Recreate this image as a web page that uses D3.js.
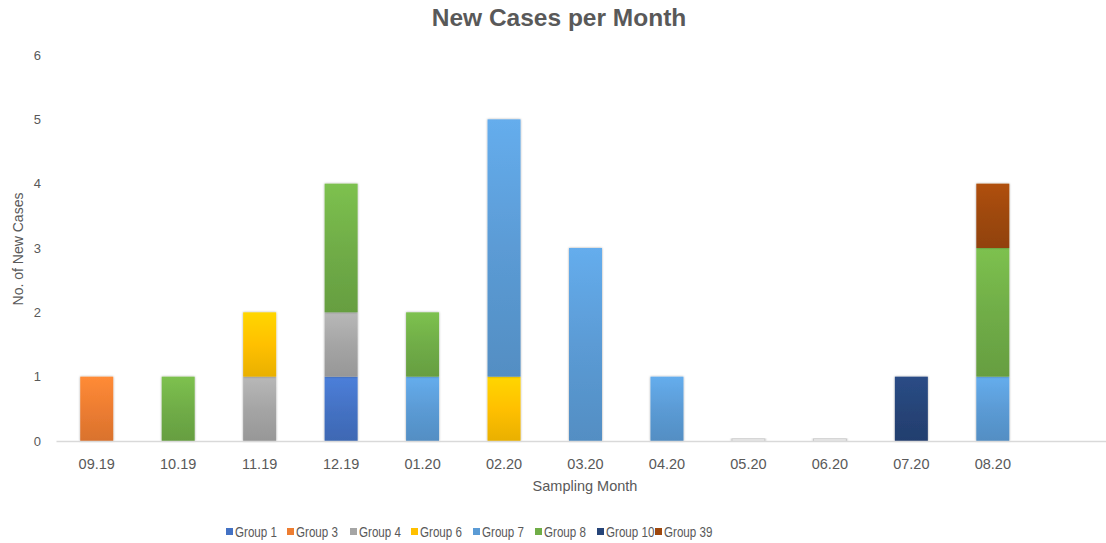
<!DOCTYPE html>
<html lang="en">
<head>
<meta charset="UTF-8">
<title>New Cases per Month</title>
<script src="https://d3js.org/d3.v7.min.js"></script>
<style>
  body { margin: 0; background: #fff; }
  svg { display: block; font-family: "Liberation Sans", Arial, sans-serif; }
  .tick text { fill: #595959; }
</style>
</head>
<body>
<script>
// categories (the last slot is empty, as in the original chart)
const months = ["09.19", "10.19", "11.19", "12.19", "01.20", "02.20", "03.20", "04.20", "05.20", "06.20", "07.20", "08.20", ""];
const groups = ["Group 1", "Group 3", "Group 4", "Group 6", "Group 7", "Group 8", "Group 10", "Group 39"];
const colors = ["#4472C4", "#ED7D31", "#A5A5A5", "#FFC000", "#5B9BD5", "#70AD47", "#264478", "#9E480E"];
const yTicks = [0, 1, 2, 3, 4, 5, 6];

// new cases per group, one value per month
const group1  = [0, 0, 0, 1, 0, 0, 0, 0, 0, 0, 0, 0, 0];
const group3  = [1, 0, 0, 0, 0, 0, 0, 0, 0, 0, 0, 0, 0];
const group4  = [0, 0, 1, 1, 0, 0, 0, 0, 0, 0, 0, 0, 0];
const group6  = [0, 0, 1, 0, 0, 1, 0, 0, 0, 0, 0, 0, 0];
const group7  = [0, 0, 0, 0, 1, 4, 3, 1, 0, 0, 0, 1, 0];
const group8  = [0, 1, 0, 2, 1, 0, 0, 0, 0, 0, 0, 2, 0];
const group10 = [0, 0, 0, 0, 0, 0, 0, 0, 0, 0, 1, 0, 0];
const group39 = [0, 0, 0, 0, 0, 0, 0, 0, 0, 0, 0, 1, 0];
const seriesValues = [group1, group3, group4, group6, group7, group8, group10, group39];

const width = 1106, height = 543;
const margin = { top: 55, right: -9, bottom: 102, left: 56 };

const rows = months.map((m, i) => {
  const r = { month: m, idx: i };
  groups.forEach((g, j) => { r[g] = seriesValues[j][i]; });
  return r;
});
const stacked = d3.stack().keys(groups)(rows);

const x = d3.scaleBand()
  .domain(d3.range(months.length))
  .range([margin.left, width - margin.right])
  .paddingInner(0.595)
  .paddingOuter(0.2975);

const y = d3.scaleLinear()
  .domain([0, 6])
  .range([height - margin.bottom, margin.top]);

const svg = d3.select("body").append("svg")
  .attr("width", width)
  .attr("height", height);

const defs = svg.append("defs");
colors.forEach((c, i) => {
  const grad = defs.append("linearGradient")
    .attr("id", "grad" + i)
    .attr("x1", 0).attr("y1", 0).attr("x2", 0).attr("y2", 1);
  grad.append("stop").attr("offset", "0%").attr("stop-color", d3.color(c).brighter(0.3));
  grad.append("stop").attr("offset", "50%").attr("stop-color", c);
  grad.append("stop").attr("offset", "100%").attr("stop-color", d3.color(c).darker(0.25));
});
const shadow = defs.append("filter").attr("id", "shadow")
  .attr("x", "-20%").attr("y", "-20%").attr("width", "140%").attr("height", "140%");
shadow.append("feDropShadow")
  .attr("dx", 0).attr("dy", 0).attr("stdDeviation", 1.2)
  .attr("flood-color", "#000").attr("flood-opacity", 0.35);

// title
svg.append("text")
  .attr("x", 559).attr("y", 26)
  .attr("text-anchor", "middle")
  .attr("fill", "#595959")
  .style("font-size", "24.5px")
  .style("font-weight", "bold")
  .text("New Cases per Month");

// y axis (labels only)
const yAxis = svg.append("g")
  .attr("transform", `translate(${margin.left - 15},0)`)
  .call(d3.axisLeft(y).tickValues(yTicks).tickSize(0).tickPadding(0).tickFormat(d3.format("d")));
yAxis.select(".domain").remove();
yAxis.selectAll(".tick text").style("font-size", "13px");

// empty months: flat outline at baseline
svg.append("g")
  .selectAll("rect")
  .data(rows.filter(r => r.month && d3.sum(groups, g => r[g]) === 0))
  .join("rect")
  .attr("x", d => x(d.idx))
  .attr("y", y(0) - 2)
  .attr("width", x.bandwidth())
  .attr("height", 2)
  .attr("fill", "#fff")
  .attr("stroke", "#c8c8c8")
  .attr("stroke-width", 1)
  .attr("filter", "url(#shadow)");

// bars
svg.append("g")
  .selectAll("g")
  .data(stacked)
  .join("g")
  .attr("fill", (d, i) => `url(#grad${i})`)
  .selectAll("rect")
  .data(d => d.filter(s => s[1] > s[0]))
  .join("rect")
  .attr("x", d => x(d.data.idx))
  .attr("y", d => y(d[1]))
  .attr("width", x.bandwidth())
  .attr("height", d => y(d[0]) - y(d[1]))
  .attr("filter", "url(#shadow)");

// x axis
const xAxis = svg.append("g")
  .attr("transform", `translate(0,${y(0)})`)
  .call(d3.axisBottom(x).tickSize(0).tickPadding(18).tickFormat(i => months[i]));
xAxis.select(".domain").attr("stroke", "#d9d9d9").attr("stroke-width", 1.3);
xAxis.selectAll(".tick text").style("font-size", "14.5px");

// axis titles
svg.append("text")
  .attr("transform", "translate(23,249) rotate(-90)")
  .attr("text-anchor", "middle")
  .attr("fill", "#595959")
  .style("font-size", "14px")
  .text("No. of New Cases");

svg.append("text")
  .attr("x", 585).attr("y", 491)
  .attr("text-anchor", "middle")
  .attr("fill", "#595959")
  .style("font-size", "14.5px")
  .text("Sampling Month");

// legend (condensed text, like the original)
const legendX = [226, 287, 350, 411, 473, 535, 597, 655];
const legend = svg.append("g")
  .selectAll("g")
  .data(groups)
  .join("g")
  .attr("transform", (d, i) => `translate(${legendX[i]},531)`);
legend.append("rect")
  .attr("x", 0).attr("y", -3)
  .attr("width", 7).attr("height", 7)
  .attr("fill", (d, i) => colors[i]);
legend.append("text")
  .attr("transform", "translate(9,5.5) scale(0.8,1)")
  .attr("fill", "#595959")
  .style("font-size", "14.5px")
  .text(d => d);
</script>
</body>
</html>
